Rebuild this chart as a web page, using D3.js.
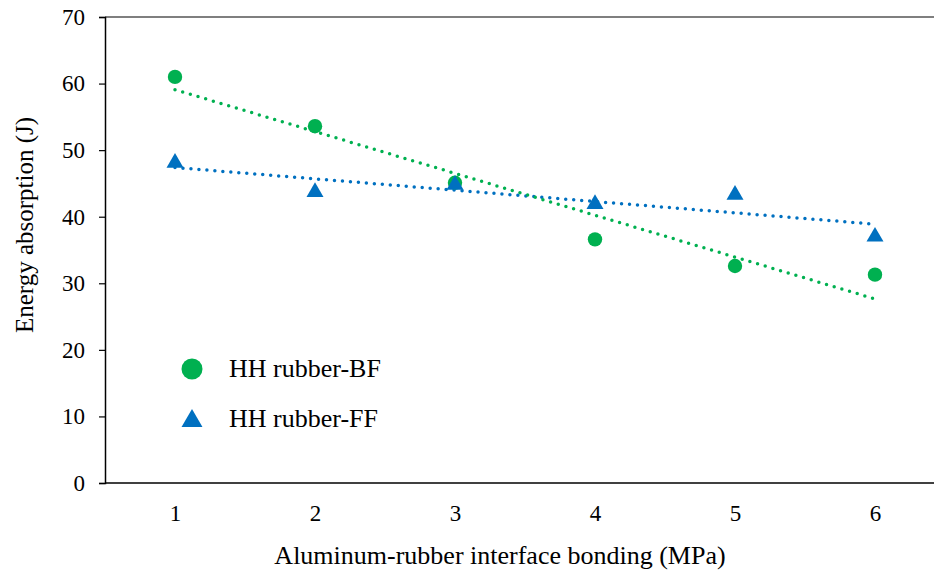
<!DOCTYPE html>
<html>
<head>
<meta charset="utf-8">
<script src="https://cdn.jsdelivr.net/npm/d3@7"></script>
<style>
  body { margin: 0; background: #fff; }
  svg { display: block; font-family: "Liberation Serif", "Times New Roman", serif; }
</style>
</head>
<body>
<svg id="chart"></svg>
<script>
// data
const bonding = [1, 2, 3, 4, 5, 6]
const bfValues = [61.0, 53.6, 45.1, 36.6, 32.6, 31.3]
const ffValues = [48.1, 43.7, 44.8, 41.9, 43.3, 37.0]
const yTicks = [0, 10, 20, 30, 40, 50, 60, 70]
const seriesNames = ["HH rubber-BF", "HH rubber-FF"]

const W = 934, H = 577
const margin = { top: 17, right: 0, bottom: 94, left: 105 }
const green = "#00B050", blue = "#0070C0"

const svg = d3.select("#chart").attr("width", W).attr("height", H)

// x axis runs past the right edge of the picture (cropped)
const x = d3.scaleLinear().domain([0.5, 6.5]).range([margin.left, margin.left + 840])
const y = d3.scaleLinear().domain([0, 70]).range([H - margin.bottom, margin.top])

// frame: left axis, bottom axis, top line
svg.append("line").attr("x1", margin.left).attr("x2", W).attr("y1", y(70)).attr("y2", y(70))
    .attr("stroke", "#555").attr("stroke-width", 1.5)
svg.append("line").attr("x1", margin.left).attr("x2", W).attr("y1", y(0)).attr("y2", y(0))
    .attr("stroke", "#000").attr("stroke-width", 1.5)

const yAxis = d3.axisLeft(y).tickValues(yTicks).tickSize(6).tickPadding(14)
const gy = svg.append("g").attr("transform", `translate(${margin.left},0)`).call(yAxis)
gy.select(".domain").attr("stroke", "#000").attr("stroke-width", 1.5)
gy.selectAll(".tick line").attr("stroke", "#000").attr("stroke-width", 1.2)
gy.selectAll("text").attr("font-size", 23).attr("font-family", "Liberation Serif").attr("fill", "#000")

const xAxis = d3.axisBottom(x).tickValues(bonding).tickFormat(d3.format("d")).tickSize(0).tickPadding(22)
const gx = svg.append("g").attr("transform", `translate(0,${y(0)})`).call(xAxis)
gx.select(".domain").remove()
gx.selectAll("text").attr("font-size", 23).attr("font-family", "Liberation Serif").attr("fill", "#000")

// axis titles
svg.append("text").attr("x", 500).attr("y", 564).attr("text-anchor", "middle")
    .attr("font-size", 26).text("Aluminum-rubber interface bonding (MPa)")
svg.append("text").attr("transform", "translate(33,225) rotate(-90)").attr("text-anchor", "middle")
    .attr("font-size", 25).text("Energy absorption (J)")

// linear trend lines (least squares)
function fit(xs, ys) {
    let mx = d3.mean(xs), my = d3.mean(ys)
    let sxy = d3.sum(xs, (v, i) => (v - mx) * (ys[i] - my))
    let sxx = d3.sum(xs, v => (v - mx) * (v - mx))
    let b = sxy / sxx
    return v => my + b * (v - mx)
}
const fBF = fit(bonding, bfValues), fFF = fit(bonding, ffValues)
const x0 = d3.min(bonding), x1 = d3.max(bonding)

function trend(f, col) {
    svg.append("line")
        .attr("x1", x(x0)).attr("y1", y(f(x0)))
        .attr("x2", x(x1)).attr("y2", y(f(x1)))
        .attr("stroke", col).attr("stroke-width", 3.5)
        .attr("stroke-linecap", "round").attr("stroke-dasharray", "0 8")
}
trend(fFF, blue)
trend(fBF, green)

const tri = d3.symbol().type(d3.symbolTriangle).size(125)

// markers
svg.selectAll(".bf").data(bfValues).join("circle").attr("class", "bf")
    .attr("cx", (d, i) => x(bonding[i])).attr("cy", d => y(d)).attr("r", 7.2)
    .attr("fill", green)
svg.selectAll(".ff").data(ffValues).join("path").attr("class", "ff")
    .attr("d", tri)
    .attr("transform", (d, i) => `translate(${x(bonding[i])},${y(d)})`)
    .attr("fill", blue)

// legend
const lg = svg.append("g")
lg.append("circle").attr("cx", 192).attr("cy", 369).attr("r", 10.5).attr("fill", green)
lg.append("text").attr("x", 229).attr("y", 377).attr("font-size", 26).text(seriesNames[0])
lg.append("path").attr("d", d3.symbol().type(d3.symbolTriangle).size(190))
    .attr("transform", "translate(192,421)").attr("fill", blue)
lg.append("text").attr("x", 229).attr("y", 427).attr("font-size", 26).text(seriesNames[1])
</script>
</body>
</html>
